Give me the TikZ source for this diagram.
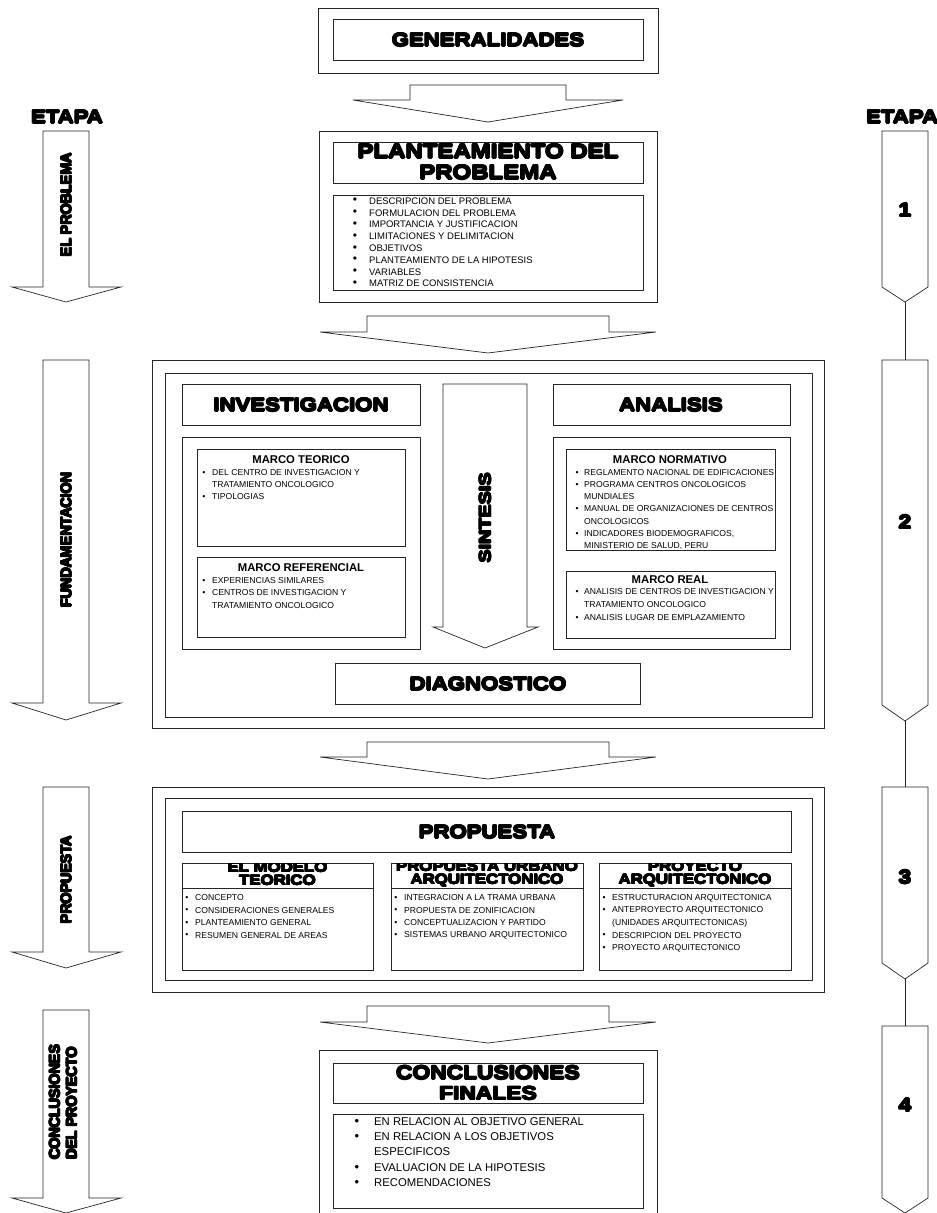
\documentclass[tikz,border=0pt]{standalone}
\usepackage{fontspec}
\setmainfont{Liberation Sans}
\newfontfamily\hvf{Liberation Sans}[UprightFont={* Bold},FakeStretch=1.2]
\newfontfamily\hvnf{Liberation Sans}[UprightFont={* Bold},FakeStretch=0.95]
\usetikzlibrary{fit}
\newcommand\fsz[1]{\fontsize{#1}{#1}\selectfont}
% heavy (black-weight) text: overprint shifted copies
\newlength\hvd \setlength\hvd{0.55pt}
\newcommand\hv[1]{{\setbox0=\hbox{#1}\leavevmode
 \rlap{\kern\hvd\copy0}\rlap{\kern-\hvd\copy0}%
 \rlap{\raise\hvd\copy0}\rlap{\lower\hvd\copy0}%
 \rlap{\kern.7\hvd\raise.7\hvd\copy0}\rlap{\kern-.7\hvd\raise.7\hvd\copy0}%
 \rlap{\kern.7\hvd\lower.7\hvd\copy0}\rlap{\kern-.7\hvd\lower.7\hvd\copy0}%
 \box0}}
\tikzset{
  ln/.style={line width=0.7pt, draw=black!85},
  bx/.style={draw=black!85, line width=0.7pt, inner sep=0pt, outer sep=0pt},
  hd/.style={font={\hvf\fontsize{18.5}{21}\selectfont\setlength\hvd{0.7pt}}, inner sep=0pt, align=center},
  hdm/.style={font={\hvf\fontsize{14}{13}\selectfont\setlength\hvd{0.5pt}}, inner sep=0pt, align=center},
  lbl/.style={font={\hvnf\fontsize{15}{17}\selectfont\setlength\hvd{0.6pt}}, inner sep=0pt, rotate=90},
  num/.style={font={\hvf\fsz{19}\setlength\hvd{0.7pt}}, inner sep=0pt},
  itx/.style={font=\fsz{9.5}, anchor=west, inner sep=0pt},
  bul/.style={font=\fsz{12}, inner sep=0pt},
  sm/.style={font=\fsz{8.6}, anchor=west, inner sep=0pt},
  smb/.style={font=\fsz{8.6}, inner sep=0pt},
  big/.style={font=\fsz{11.3}, anchor=west, inner sep=0pt},
  bigb/.style={font=\fsz{13}, inner sep=0pt},
  mt/.style={font={\bfseries\fsz{11.3}}, inner sep=0pt},
}
\newcommand\rbox[5]{\node[bx, fit={(#2,#3) (#4,#5)}] (#1) {};}
% name, shaft left, shaft right, wing left, wing right, centre x, top, shoulder, tip
\newcommand\barrow[9]{\draw[ln, fill=white] (#2,#7) -- (#3,#7) -- (#3,#8) -- (#5,#8) -- (#6,#9) -- (#4,#8) -- (#2,#8) -- cycle; \coordinate (#1) at (#6,#9);}
% name, top, point start, tip
\newcommand\stage[4]{\draw[ln] (882,#2) -- (928,#2) -- (928,#3) -- (905,#4) -- (882,#3) -- cycle; \coordinate (#1top) at (905,#2); \coordinate (#1tip) at (905,#4);}
\begin{document}
\begin{tikzpicture}[x=1pt,y=-1pt]
\useasboundingbox (0,0) rectangle (937,1213);

% ---------- GENERALIDADES ----------
\rbox{genO}{318}{8}{658}{73}
\rbox{genI}{333}{19}{643}{60}
\node[hd] (tgen) at (488,40) {\hv{GENERALIDADES}};
\barrow{a1}{410}{566}{353}{623}{488}{85}{100}{122}

% ---------- ETAPA labels ----------
\node[hd] (etL) at (67,117) {\hv{ETAPA}};
\node[hd, anchor=west] (etR) at (866,117) {\hv{ETAPA}};

% ---------- left stage arrows ----------
\barrow{la1}{43}{89}{12}{121}{66}{131}{287}{302}
\node[lbl] (l1) at (66,205) {\hv{EL PROBLEMA}};
\barrow{la2}{43}{89}{12}{121}{66}{360}{703}{720}
\node[lbl] (l2) at (66,540) {\hv{FUNDAMENTACION}};
\barrow{la3}{43}{89}{12}{121}{66}{787}{952}{968}
\node[lbl] (l3) at (66,880) {\hv{PROPUESTA}};
\barrow{la4}{43}{89}{12}{121}{66}{1010}{1198}{1213}
\node[lbl, align=left] (l4) at (63,1102) {\hv{CONCLUSIONES}\\\hv{DEL PROYECTO}};

% ---------- right stages ----------
\stage{s1}{131}{287}{302}
\node[num] (n1) at (905,210) {\hv{1}};
\stage{s2}{360}{705}{721}
\node[num] (n2) at (905,522) {\hv{2}};
\stage{s3}{787}{963}{979}
\node[num] (n3) at (905,877) {\hv{3}};
\stage{s4}{1026}{1198}{1213}
\node[num] (n4) at (905,1105) {\hv{4}};
\draw[ln] (s1tip) -- (s2top);
\draw[ln] (s2tip) -- (s3top);
\draw[ln] (s3tip) -- (s4top);

% ---------- PLANTEAMIENTO ----------
\rbox{plO}{319}{131}{657}{302}
\rbox{plT}{333}{142}{643}{183}
\node[hd, font={\hvf\fontsize{20}{21}\selectfont\setlength\hvd{0.75pt}}] (tpl) at (488,162) {\hv{PLANTEAMIENTO DEL}\\\hv{PROBLEMA}};
\rbox{plL}{333}{195}{643}{290}
\foreach \t [count=\i from 0] in {DESCRIPCION DEL PROBLEMA, FORMULACION DEL PROBLEMA, IMPORTANCIA Y JUSTIFICACION, LIMITACIONES Y DELIMITACION, OBJETIVOS, PLANTEAMIENTO DE LA  HIPOTESIS, VARIABLES, MATRIZ DE CONSISTENCIA}{
  \node[bul] (pb\i) at (355,{201+11.8*\i}) {\textbullet};
  \node[itx] (pi\i) at (369,{201+11.8*\i}) {\t};
}
\barrow{a2}{367}{609}{320}{656}{488}{316}{332}{353}

% ---------- FUNDAMENTACION ----------
\rbox{fuO}{152}{360}{824}{728}
\rbox{fuI}{165}{373}{812}{717}
\rbox{inv}{182}{384}{420}{425}
\node[hd] (tinv) at (301,405) {\hv{INVESTIGACION}};
\rbox{invS}{182}{437}{420}{649}
\rbox{mte}{197}{449}{405}{546}
\node[mt] (tmte) at (301,460) {MARCO TEORICO};
\node[smb] at (204,473) {\textbullet};
\node[sm] (mte1) at (212,473) {DEL CENTRO DE INVESTIGACION Y};
\node[sm] (mte2) at (212,485) {TRATAMIENTO ONCOLOGICO};
\node[smb] at (204,497) {\textbullet};
\node[sm] (mte3) at (212,497) {TIPOLOGIAS};
\rbox{mre}{197}{557}{405}{637}
\node[mt] (tmre) at (301,568) {MARCO REFERENCIAL};
\node[smb] at (204,581) {\textbullet};
\node[sm] (mre1) at (212,581) {EXPERIENCIAS SIMILARES};
\node[smb] at (204,593) {\textbullet};
\node[sm] (mre2) at (212,593) {CENTROS DE INVESTIGACION Y};
\node[sm] (mre3) at (212,606) {TRATAMIENTO ONCOLOGICO};

\rbox{ana}{553}{384}{790}{425}
\node[hd] (tana) at (671,405) {\hv{ANALISIS}};
\rbox{anaS}{553}{437}{790}{649}
\rbox{mno}{566}{449}{775}{550}
\node[mt] (tmno) at (670,460) {MARCO NORMATIVO};
\node[smb] at (577,473) {\textbullet};
\node[sm] (mno1) at (584,473) {REGLAMENTO NACIONAL DE EDIFICACIONES};
\node[smb] at (577,485) {\textbullet};
\node[sm] (mno2) at (584,485) {PROGRAMA CENTROS ONCOLOGICOS};
\node[sm] (mno3) at (584,497) {MUNDIALES};
\node[smb] at (577,509) {\textbullet};
\node[sm] (mno4) at (584,509) {MANUAL DE ORGANIZACIONES DE CENTROS};
\node[sm] (mno5) at (584,522) {ONCOLOGICOS};
\node[smb] at (577,534) {\textbullet};
\node[sm] (mno6) at (584,534) {INDICADORES BIODEMOGRAFICOS,};
\node[sm] (mno7) at (584,546) {MINISTERIO DE SALUD, PERU};
\rbox{mrl}{566}{571}{775}{638}
\node[mt] (tmrl) at (670,580) {MARCO REAL};
\node[smb] at (577,592) {\textbullet};
\node[sm] (mrl1) at (584,592) {ANALISIS DE CENTROS DE INVESTIGACION Y};
\node[sm] (mrl2) at (584,605) {TRATAMIENTO ONCOLOGICO};
\node[smb] at (577,618) {\textbullet};
\node[sm] (mrl3) at (584,618) {ANALISIS LUGAR DE EMPLAZAMIENTO};

\barrow{sa}{443}{527}{433}{538}{485}{384}{627}{648}
\node[lbl, font={\hvf\fsz{16.5}\setlength\hvd{0.65pt}}] (tsin) at (485,518) {\hv{SINTESIS}};
\rbox{dia}{335}{663}{640}{704}
\node[hd] (tdia) at (488,684) {\hv{DIAGNOSTICO}};

\barrow{a3}{367}{609}{320}{656}{488}{742}{757}{779}

% ---------- PROPUESTA ----------
\rbox{prO}{152}{787}{824}{992}
\rbox{prI}{165}{798}{812}{980}
\rbox{prT}{182}{811}{791}{852}
\node[hd] (tpr) at (487,832) {\hv{PROPUESTA}};
\rbox{c1}{182}{863}{373}{970}
\rbox{c2}{391}{863}{583}{970}
\rbox{c3}{599}{863}{791}{970}
\draw[ln] (c1.west |- 0,888) -- (c1.east |- 0,888);
\draw[ln] (c2.west |- 0,888) -- (c2.east |- 0,888);
\draw[ln] (c3.west |- 0,888) -- (c3.east |- 0,888);
\begin{scope}
  \clip (182,863) rectangle (791,888);
  \node[hdm] (h1) at (277.5,874) {\hv{EL MODELO}\\\hv{TEORICO}};
  \node[hdm] (h2) at (487,874) {\hv{PROPUESTA URBANO}\\\hv{ARQUITECTONICO}};
  \node[hdm] (h3) at (695,874) {\hv{PROYECTO}\\\hv{ARQUITECTONICO}};
\end{scope}
\foreach \t [count=\i from 0] in {CONCEPTO, CONSIDERACIONES GENERALES, PLANTEAMIENTO GENERAL, RESUMEN GENERAL DE AREAS}{
  \node[smb] (c1b\i) at (187,{898+12.5*\i}) {\textbullet};
  \node[sm] (c1t\i) at (195,{898+12.5*\i}) {\t};
}
\foreach \t [count=\i from 0] in {INTEGRACION A LA TRAMA URBANA, PROPUESTA DE ZONIFICACION, CONCEPTUALIZACION Y PARTIDO, SISTEMAS URBANO ARQUITECTONICO}{
  \node[smb] (c2b\i) at (396,{898+12.5*\i}) {\textbullet};
  \node[sm] (c2t\i) at (404,{898+12.5*\i}) {\t};
}
\node[smb] at (604,898) {\textbullet};
\node[sm] (c3t0) at (612,898) {ESTRUCTURACION ARQUITECTONICA};
\node[smb] at (604,910.5) {\textbullet};
\node[sm] (c3t1) at (612,910.5) {ANTEPROYECTO ARQUITECTONICO};
\node[sm] (c3t2) at (612,923) {(UNIDADES ARQUITECTONICAS)};
\node[smb] at (604,935.5) {\textbullet};
\node[sm] (c3t3) at (612,935.5) {DESCRIPCION DEL PROYECTO};
\node[smb] at (604,948) {\textbullet};
\node[sm] (c3t4) at (612,948) {PROYECTO ARQUITECTONICO};

\barrow{a4}{367}{609}{320}{656}{488}{1006}{1022}{1043}

% ---------- CONCLUSIONES ----------
\rbox{coO}{319}{1050}{657}{1230}
\rbox{coT}{333}{1063}{643}{1103}
\node[hd, font={\hvf\fontsize{19}{20.5}\selectfont\setlength\hvd{0.75pt}}] (tco) at (488,1083) {\hv{CONCLUSIONES}\\\hv{FINALES}};
\rbox{coL}{333}{1114}{643}{1208}
\node[bigb] at (357,1122) {\textbullet};
\node[big] (co1) at (374,1122) {EN RELACION AL OBJETIVO GENERAL};
\node[bigb] at (357,1137) {\textbullet};
\node[big] (co2) at (374,1137) {EN RELACION A LOS OBJETIVOS};
\node[big] (co3) at (374,1152) {ESPECIFICOS};
\node[bigb] at (357,1168) {\textbullet};
\node[big] (co4) at (374,1168) {EVALUACION DE LA HIPOTESIS};
\node[bigb] at (357,1183) {\textbullet};
\node[big] (co5) at (374,1183) {RECOMENDACIONES};
\end{tikzpicture}
\end{document}
